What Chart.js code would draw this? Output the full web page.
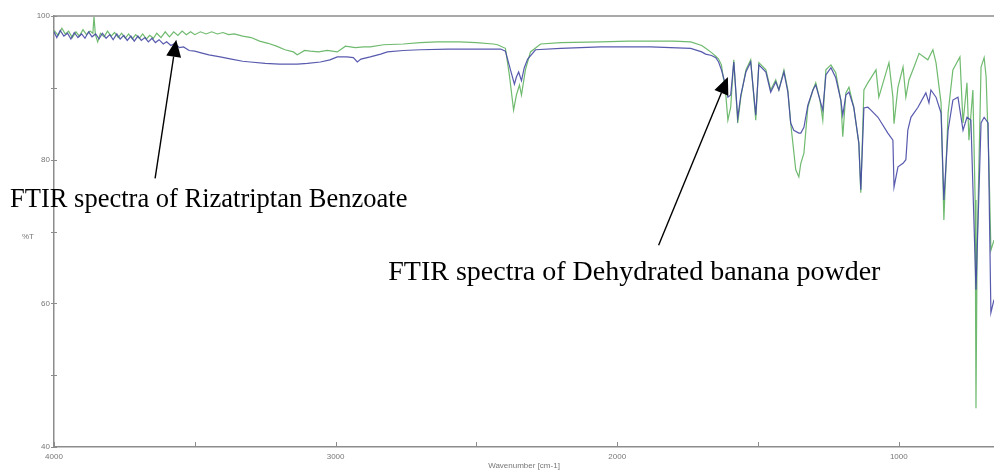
<!DOCTYPE html>
<html>
<head>
<meta charset="utf-8">
<script src="https://cdn.jsdelivr.net/npm/chart.js@4/dist/chart.umd.min.js"></script>
<style>
  html, body { margin:0; padding:0; background:#fff; overflow:hidden; }
  #wrap { position:relative; width:994px; height:471px; }
</style>
</head>
<body>
<div id="wrap"><canvas id="ftir" width="994" height="471"></canvas></div>
<script>
// ── SPECTRA ── [wavenumber cm-1, %T]

const greenSpectrum = [
  [4000,98.0],[3985,97.3],[3972,98.3],[3960,97.5],[3948,97.9],[3935,97.0],[3922,97.8],[3910,97.2],
  [3897,98.1],[3885,97.4],[3872,97.9],[3862,97.6],[3858,99.9],[3853,97.4],[3845,96.4],[3835,97.6],
  [3822,97.1],[3810,97.9],[3797,97.2],[3785,97.7],[3772,97.0],[3760,97.6],[3747,96.9],[3735,97.5],
  [3722,96.8],[3710,97.4],[3697,96.9],[3685,97.5],[3672,96.8],[3660,97.3],[3647,96.9],[3635,97.6],
  [3620,97.0],[3605,97.8],[3590,97.1],[3575,97.8],[3560,97.3],[3545,97.9],[3530,97.4],[3515,97.8],
  [3500,97.4],[3480,97.8],[3460,97.5],[3440,97.8],[3420,97.5],[3400,97.7],[3380,97.4],[3360,97.5],
  [3330,97.2],[3300,97.0],[3270,96.5],[3240,96.2],[3210,95.8],[3180,95.3],[3150,95.0],[3136,94.6],
  [3110,95.2],[3090,95.1],[3060,95.0],[3030,95.2],[2994,95.0],[2965,95.8],[2930,95.6],[2900,95.7],
  [2877,95.7],[2830,96.0],[2760,96.1],[2700,96.3],[2640,96.4],[2560,96.4],[2500,96.3],[2440,96.1],
  [2425,96.0],[2397,95.5],[2383,91.8],[2368,86.9],[2358,89.0],[2347,90.4],[2340,89.0],[2326,92.5],
  [2308,95.0],[2272,96.1],[2200,96.3],[2059,96.4],[1960,96.5],[1881,96.5],[1800,96.5],[1739,96.4],
  [1700,95.9],[1686,95.5],[1665,94.9],[1650,94.4],[1640,94.0],[1630,93.2],[1615,89.3],[1607,85.5],
  [1597,87.3],[1586,93.9],[1572,85.1],[1561,88.7],[1543,92.5],[1526,93.9],[1508,85.5],[1497,93.5],
  [1472,92.5],[1455,89.7],[1437,91.1],[1426,89.7],[1408,92.5],[1394,89.7],[1384,85.1],[1366,78.6],
  [1355,77.6],[1348,79.5],[1337,80.9],[1323,87.3],[1305,89.7],[1295,90.7],[1280,88.3],[1270,85.5],
  [1259,92.5],[1241,93.2],[1224,92.1],[1206,88.3],[1199,83.2],[1188,89.3],[1177,90.1],[1160,87.3],
  [1142,82.3],[1135,75.4],[1124,89.7],[1110,90.7],[1081,92.5],[1071,88.7],[1053,91.1],[1035,93.5],
  [1021,88.7],[1017,85.0],[1003,90.1],[985,92.9],[975,88.7],[964,91.1],[946,92.9],[928,94.8],
  [911,94.3],[897,93.9],[879,95.3],[868,93.5],[850,87.9],[840,71.6],[825,86.5],[808,92.5],
  [783,94.3],[772,85.1],[758,90.7],[751,82.7],[737,89.7],[729,74.4],[726,45.4],[722,67.4],
  [708,92.9],[697,94.2],[690,91.5],[680,79.5],[673,67.4],[662,68.8]
];

const blueSpectrum = [
  [4000,97.8],[3990,97.0],[3978,98.0],[3965,97.2],[3952,97.6],[3940,96.8],[3928,97.7],[3915,97.0],
  [3902,97.5],[3890,96.9],[3877,97.8],[3865,97.1],[3852,97.5],[3840,96.8],[3828,97.6],[3815,96.9],
  [3802,97.4],[3790,96.7],[3777,97.5],[3765,96.8],[3752,97.3],[3740,96.6],[3727,97.2],[3715,96.5],
  [3702,97.2],[3690,96.6],[3677,97.0],[3665,96.4],[3652,96.9],[3640,96.3],[3627,96.7],[3612,96.1],
  [3600,96.4],[3585,95.9],[3570,96.2],[3555,95.6],[3540,95.7],[3520,95.2],[3500,95.1],[3481,94.9],
  [3450,94.6],[3410,94.3],[3370,94.0],[3330,93.7],[3303,93.6],[3250,93.4],[3200,93.3],[3136,93.3],
  [3100,93.4],[3054,93.6],[3020,93.9],[2994,94.3],[2960,94.3],[2937,94.2],[2923,93.6],[2910,94.0],
  [2877,94.3],[2840,94.7],[2816,95.0],[2760,95.2],[2699,95.3],[2600,95.4],[2521,95.4],[2414,95.4],
  [2397,95.1],[2379,92.5],[2365,90.5],[2358,91.5],[2350,92.2],[2340,91.0],[2330,92.8],[2318,94.0],
  [2290,95.3],[2201,95.5],[2059,95.7],[1881,95.7],[1739,95.5],[1700,95.0],[1686,94.7],[1665,94.5],
  [1650,94.2],[1640,93.6],[1630,92.5],[1615,90.4],[1607,88.7],[1597,89.0],[1586,93.6],[1572,85.8],
  [1561,89.0],[1543,92.2],[1526,93.6],[1508,86.2],[1497,93.2],[1472,92.2],[1455,89.4],[1437,90.8],
  [1426,89.7],[1408,92.2],[1394,89.4],[1384,85.1],[1373,84.1],[1355,83.7],[1348,83.7],[1337,84.5],
  [1323,87.6],[1305,89.7],[1295,90.4],[1270,86.9],[1259,91.8],[1241,92.8],[1224,91.4],[1206,88.3],
  [1199,86.2],[1188,89.0],[1177,89.4],[1160,87.3],[1142,82.3],[1135,75.8],[1124,87.2],[1110,87.3],
  [1099,86.9],[1074,85.9],[1039,83.7],[1021,82.7],[1017,76.2],[1003,79.0],[985,79.5],[975,80.0],
  [968,84.1],[957,85.9],[932,87.3],[904,89.3],[893,87.9],[886,89.7],[868,88.7],[850,86.5],
  [840,74.4],[825,84.1],[808,88.3],[790,88.7],[772,84.1],[758,85.9],[744,85.5],[726,61.9],
  [708,85.1],[697,85.9],[683,85.1],[673,58.7],[662,60.5]
];

// axis ticks
const xTickValues = [4000, 3500, 3000, 2500, 2000, 1500, 1000];
const xLabelled   = [4000, 3000, 2000, 1000];
const yTickValues = [100, 90, 80, 70, 60, 50, 40];
const yLabelled   = [100, 80, 60, 40];

// callouts: text anchor, arrow tail and arrow tip in data units
const callouts = [
  { text:'FTIR spectra of Rizatriptan Benzoate',     size:26.5, textAt:[4156, 73.4], tail:[3641, 77.4], tip:[3566, 96.7] },
  { text:'FTIR spectra of Dehydrated banana powder', size:28,   textAt:[2813, 63.3], tail:[1853, 68.1], tip:[1607, 91.5] }
];

const toPts = arr => arr.map(p => ({ x:p[0], y:p[1] }));

const AXIS = '#8c8c8c';
const TICK_FONT = { family:'"Liberation Sans", Arial, sans-serif', size:8 };

const framePlugin = {
    id:'frame',
    afterDraw(chart) {
        const { ctx, chartArea:a, scales } = chart;
        ctx.save();
        // top border
        ctx.strokeStyle = AXIS;
        ctx.lineWidth = 1.5;
        ctx.beginPath();
        ctx.moveTo(a.left, a.top);
        ctx.lineTo(a.right, a.top);
        ctx.stroke();

        // tick marks: x ticks point up into the plot, y ticks straddle the axis
        ctx.lineWidth = 1;
        ctx.beginPath();
        xTickValues.forEach(v => {
            const px = Math.round(scales.x.getPixelForValue(v)) + 0.5;
            ctx.moveTo(px, a.bottom);
            ctx.lineTo(px, a.bottom - 5);
        });
        yTickValues.forEach(v => {
            const py = Math.round(scales.y.getPixelForValue(v)) + 0.5;
            ctx.moveTo(a.left - 3, py);
            ctx.lineTo(a.left + 3, py);
        });
        ctx.stroke();

        // %T label sits horizontally beside the axis
        ctx.fillStyle = '#777';
        ctx.font = '8px "Liberation Sans", Arial, sans-serif';
        ctx.textAlign = 'center';
        ctx.textBaseline = 'middle';
        ctx.fillText('%T', 28, scales.y.getPixelForValue(70) + 5);

        // callouts
        callouts.forEach(c => {
            const tx = scales.x.getPixelForValue(c.textAt[0]);
            const ty = scales.y.getPixelForValue(c.textAt[1]);
            ctx.fillStyle = '#000';
            ctx.font = c.size + 'px "Liberation Serif", "Times New Roman", serif';
            ctx.textAlign = 'left';
            ctx.textBaseline = 'alphabetic';
            ctx.fillText(c.text, tx, ty);

            const x0 = scales.x.getPixelForValue(c.tail[0]), y0 = scales.y.getPixelForValue(c.tail[1]);
            const x1 = scales.x.getPixelForValue(c.tip[0]),  y1 = scales.y.getPixelForValue(c.tip[1]);
            const ang = Math.atan2(y1 - y0, x1 - x0);
            const headL = 17, headW = 7.5;
            const bx = x1 - headL * Math.cos(ang), by = y1 - headL * Math.sin(ang);
            ctx.strokeStyle = '#000';
            ctx.lineWidth = 1.4;
            ctx.beginPath();
            ctx.moveTo(x0, y0);
            ctx.lineTo(bx, by);
            ctx.stroke();
            ctx.beginPath();
            ctx.moveTo(x1, y1);
            ctx.lineTo(bx + headW * Math.sin(ang), by - headW * Math.cos(ang));
            ctx.lineTo(bx - headW * Math.sin(ang), by + headW * Math.cos(ang));
            ctx.closePath();
            ctx.fillStyle = '#000';
            ctx.fill();
        });
        ctx.restore();
    }
};

new Chart(document.getElementById('ftir'), {
    type:'line',
    data:{ datasets:[
        { label:'blue',  data:toPts(blueSpectrum),  borderColor:'rgba(70,72,165,.9)', borderWidth:1.2, pointRadius:0, tension:0, order:1 },
        { label:'green', data:toPts(greenSpectrum), borderColor:'rgba(95,178,95,.9)', borderWidth:1.2, pointRadius:0, tension:0, order:2 }
    ]},
    options:{
        responsive:false, animation:false, events:[],
        layout:{ padding:{ top:16, right:0, left:0, bottom:0 } },
        plugins:{ legend:{ display:false }, tooltip:{ enabled:false } },
        scales:{
            x:{
                type:'linear', reverse:true, min:662, max:4000,
                afterBuildTicks: s => { s.ticks = xTickValues.map(v => ({ value:v })); },
                afterFit: s => { s.height = 24; },
                ticks:{ color:'#777', font:TICK_FONT, padding:5, maxRotation:0, autoSkip:false,
                        callback: v => xLabelled.includes(v) ? String(v) : '' },
                grid:{ display:false, drawTicks:false },
                border:{ color:AXIS, width:1.5 },
                title:{ display:true, text:'Wavenumber [cm-1]', color:'#777', font:TICK_FONT, padding:0 }
            },
            y:{
                min:40, max:100,
                afterBuildTicks: s => { s.ticks = yTickValues.map(v => ({ value:v })); },
                afterFit: s => { s.width = 54; },
                ticks:{ color:'#777', font:TICK_FONT, padding:4,
                        callback: v => yLabelled.includes(v) ? String(v) : '' },
                grid:{ display:false, drawTicks:false },
                border:{ color:AXIS, width:1.5 }
            }
        }
    },
    plugins:[framePlugin]
});
</script>
</body>
</html>
